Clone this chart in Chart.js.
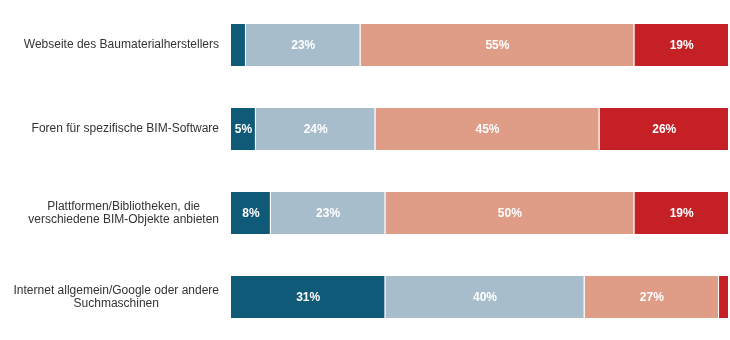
<!DOCTYPE html>
<html>
<head>
<meta charset="utf-8">
<script src="https://cdn.jsdelivr.net/npm/chart.js@4/dist/chart.umd.min.js"></script>
<style>
  html, body { margin: 0; padding: 0; background: #fff; }
  #wrap { width: 730px; height: 340px; position: relative; }
</style>
</head>
<body>
<div id="wrap"><canvas id="chart"></canvas></div>
<script>
// Kategorien (Zeilen von oben nach unten)
const categories = [
    'Webseite des Baumaterialherstellers',
    'Foren für spezifische BIM-Software',
    ['Plattformen/Bibliotheken, die', 'verschiedene BIM-Objekte anbieten'],
    ['Internet allgemein/Google oder andere', 'Suchmaschinen']
];

// Anteile in Prozent je Segment
const seg1 = [3, 5, 8, 31];
const seg2 = [23, 24, 23, 40];
const seg3 = [55, 45, 50, 27];
const seg4 = [19, 26, 19, 2];

const colors = ['#0f5a79', '#a8bdcc', '#df9c87', '#c42025'];
const labelFont = '12px "Liberation Sans", Arial, sans-serif';

// Prozentwerte in die Balken schreiben
const barLabels = {
    id: 'barLabels',
    afterDatasetsDraw(chart) {
        const ctx = chart.ctx;
        ctx.save();
        ctx.font = 'bold 12px "Liberation Sans", Arial, sans-serif';
        ctx.fillStyle = '#ffffff';
        ctx.textAlign = 'center';
        ctx.textBaseline = 'middle';
        chart.data.datasets.forEach((ds, i) => {
            chart.getDatasetMeta(i).data.forEach((bar, j) => {
                const v = ds.data[j];
                if (v < 5) return;
                const cx = (bar.base + bar.x) / 2;
                ctx.fillText(v + '%', cx, bar.y + 1);
            });
        });
        ctx.restore();
    }
};

// Kategorienamen: Block rechtsbündig, Zeilen darin zentriert
const catLabels = {
    id: 'catLabels',
    afterDraw(chart) {
        const ctx = chart.ctx;
        const y = chart.scales.y;
        const right = chart.chartArea.left - 12;
        const lh = 13;
        ctx.save();
        ctx.font = labelFont;
        ctx.fillStyle = '#333333';
        ctx.textAlign = 'center';
        ctx.textBaseline = 'middle';
        chart.data.labels.forEach((lbl, i) => {
            const lines = Array.isArray(lbl) ? lbl : [lbl];
            const w = Math.max(...lines.map(l => ctx.measureText(l).width));
            const cx = right - w / 2;
            const cy = y.getPixelForTick(i);
            lines.forEach((l, k) => {
                ctx.fillText(l, cx, cy + (k - (lines.length - 1) / 2) * lh);
            });
        });
        ctx.restore();
    }
};

const mkSet = (data, idx) => ({
    data,
    backgroundColor: colors[idx],
    borderColor: '#ffffff',
    borderWidth: { left: 0, right: 1, top: 0, bottom: 0 },
    borderSkipped: false,
    barPercentage: 0.5,
    categoryPercentage: 1
});

new Chart(document.getElementById('chart'), {
    type: 'bar',
    data: {
        labels: categories,
        datasets: [mkSet(seg1, 0), mkSet(seg2, 1), mkSet(seg3, 2), mkSet(seg4, 3)]
    },
    options: {
        indexAxis: 'y',
        responsive: true,
        maintainAspectRatio: false,
        animation: false,
        layout: { padding: { top: 3, right: 1, bottom: 1, left: 0 } },
        scales: {
            x: {
                stacked: true,
                min: 0,
                max: 100,
                display: false
            },
            y: {
                stacked: true,
                grid: { display: false },
                border: { display: false },
                ticks: { display: false },
                afterFit: (s) => {
                    s.width = 231;
                    s.paddingTop = 0;
                    s.paddingBottom = 0;
                }
            }
        },
        plugins: {
            legend: { display: false },
            tooltip: { enabled: false }
        }
    },
    plugins: [barLabels, catLabels]
});
</script>
</body>
</html>
